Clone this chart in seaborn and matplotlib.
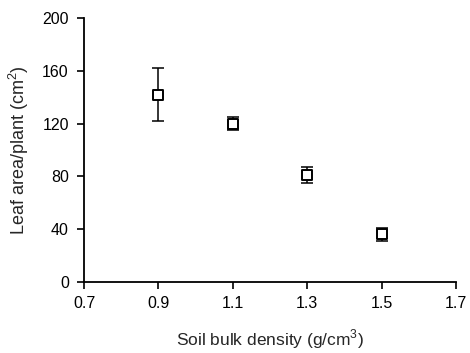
import matplotlib
matplotlib.use("Agg")
import matplotlib.pyplot as plt
import seaborn as sns
import pandas as pd

density = [0.9, 1.1, 1.3, 1.5]
leaf_area = [142, 120, 81, 36]
leaf_err = [20, 5, 6, 5]
x_ticks = [0.7, 0.9, 1.1, 1.3, 1.5, 1.7]
y_ticks = [0, 40, 80, 120, 160, 200]

sns.set_style("ticks")
plt.rcParams['font.family'] = ['Liberation Sans', 'DejaVu Sans']
plt.rcParams['mathtext.fontset'] = 'custom'
plt.rcParams['mathtext.rm'] = 'Liberation Sans'

df = pd.DataFrame({"density": density, "area": leaf_area, "err": leaf_err})

fig = plt.figure(figsize=(4.7, 3.53), dpi=100)
ax = fig.add_axes([0.179, 0.202, 0.791, 0.746])

ax.errorbar(df["density"], df["area"], yerr=df["err"], fmt='none',
            ecolor='black', elinewidth=1.1, capsize=4.3, capthick=1.1, zorder=2)
sns.scatterplot(data=df, x="density", y="area", marker='s', s=42,
                facecolor='white', edgecolor='black', linewidth=1.4, ax=ax, zorder=3)

ax.set_xlim(0.7, 1.7)
ax.set_ylim(0, 200)
ax.set_xticks(x_ticks)
ax.set_xticklabels([f"{v:.1f}" for v in x_ticks])
ax.set_yticks(y_ticks)
ax.set_yticklabels([str(v) for v in y_ticks])

for s in ['top', 'right']:
    ax.spines[s].set_visible(False)
for s in ['left', 'bottom']:
    ax.spines[s].set_linewidth(1.3)
    ax.spines[s].set_color('black')
ax.tick_params(axis='both', direction='out', length=5, width=1.2,
               labelsize=11.5, colors='black')
ax.tick_params(axis='x', pad=5)
ax.tick_params(axis='y', pad=6)

ax.set_xlabel("Soil bulk density (g/cm$^3$)", fontsize=12.5, labelpad=12)
ax.set_ylabel("Leaf area/plant (cm$^2$)", fontsize=13, labelpad=8)

fig.savefig("out.png", dpi=100, facecolor='white')
